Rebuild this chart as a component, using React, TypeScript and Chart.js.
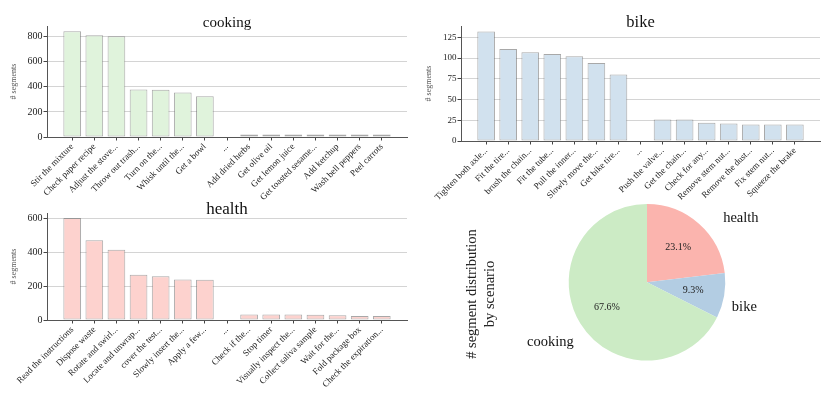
import React, { useEffect, useRef } from 'react';
import { Chart, registerables } from 'chart.js';

Chart.register(...registerables);

const SERIF = "'Liberation Serif', 'Times New Roman', Times, serif";

const cookingLabels = ['Stir the mixture', 'Check paper recipe', 'Adjust the stove...', 'Throw out trash...', 'Turn on the...', 'Whisk until the...', 'Get a bowl', '...', 'Add dried herbs', 'Get olive oil', 'Get lemon juice', 'Get toasted sesame...', 'Add ketchup', 'Wash bell peppers', 'Peel carrots'];
const cookingValues = [843, 811, 803, 379, 376, 355, 325, null, 20, 20, 20, 19, 19, 19, 19];

const bikeLabels = ['Tighten both axle...', 'Fit the tire...', 'brush the chain...', 'Fit the tube...', 'Pull the inner...', 'Slowly move the...', 'Get bike tire...', '...', 'Push the valve...', 'Get the chain...', 'Check for any...', 'Remove stem nut...', 'Remove the dust...', 'Fix stem nut...', 'Squeeze the brake'];
const bikeValues = [132, 111, 107, 105, 102, 94, 80, null, 26, 26, 22, 21, 20, 20, 20];

const healthLabels = ['Read the instructions', 'Dispose waste', 'Rotate and swirl...', 'Locate and unwrap...', 'cover the test...', 'Slowly insert the...', 'Apply a few...', '...', 'Check if the...', 'Stop timer', 'Visually inspect the...', 'Collect saliva sample', 'Wait for the...', 'Fold package box', 'Check the expiration...'];
const healthValues = [600, 470, 414, 266, 257, 239, 237, null, 32, 32, 32, 31, 28, 24, 23];

const scenarioLabels = ['health', 'bike', 'cooking'];
const scenarioShares = [23.1, 9.3, 67.6];
const scenarioColors = ['#fbb4ae', '#b3cde3', '#ccebc5'];
const barFills = { cooking: '#e0f3dc', bike: '#d1e1ee', health: '#fdd2ce' };

type Box = { left: number; top: number; w: number; h: number };
type Area = { left: number; top: number; right: number; xh: number };

function BarPanel(props: { title: string; labels: string[]; values: (number | null)[]; fill: string; step: number; box: Box; area: Area; titleSize: number; tickSize: number }) {
  const ref = useRef<HTMLCanvasElement | null>(null);
  const { title, labels, values, fill, step, box, area, titleSize, tickSize } = props;
  useEffect(() => {
    const maxV = Math.max(...(values.filter((v) => v != null) as number[]));
    const yMax = maxV * 1.05;
    const n = labels.length;
    const margin = 0.05 * (n - 1 + 0.8);
    const xMin = -0.4 - margin;
    const xMax = n - 1 + 0.4 + margin;
    const titlePlugin = {
      id: 'panelTitle',
      afterDraw(chart: any) {
        const { ctx, chartArea } = chart;
        ctx.save();
        ctx.font = `${titleSize}px ${SERIF}`;
        ctx.fillStyle = '#111';
        ctx.textAlign = 'center';
        ctx.textBaseline = 'alphabetic';
        ctx.fillText(title, (chartArea.left + chartArea.right) / 2, chartArea.top + 1);
        ctx.restore();
      },
    };
    const chart = new Chart(ref.current as HTMLCanvasElement, {
      type: 'bar',
      data: {
        datasets: [
          {
            data: values.map((v, i) => ({ x: i, y: v })) as any,
            backgroundColor: fill,
            borderColor: 'rgba(110,110,110,0.6)',
            borderWidth: 1,
            borderSkipped: false,
            barPercentage: 0.8,
            categoryPercentage: 1,
          } as any,
        ],
      },
      options: {
        responsive: false,
        animation: false,
        layout: { padding: { top: area.top, right: area.right, left: 0, bottom: 0 } },
        plugins: { legend: { display: false }, tooltip: { enabled: false } },
        scales: {
          x: {
            type: 'linear',
            offset: false,
            bounds: 'data',
            min: xMin,
            max: xMax,
            afterBuildTicks: (ax: any) => {
              ax.ticks = labels.map((_, i) => ({ value: i }));
              ax.min = xMin;
              ax.max = xMax;
            },
            afterFit: (s: any) => {
              s.height = area.xh;
            },
            ticks: {
              autoSkip: false,
              maxRotation: 45,
              minRotation: 45,
              padding: 1,
              color: '#222',
              font: { family: SERIF, size: 9 },
              callback: (v: any) => labels[v] ?? '',
            },
            grid: { offset: false, drawOnChartArea: false, drawTicks: true, tickLength: 3.5, tickColor: '#444' },
            border: { color: '#555', width: 1 },
          },
          y: {
            bounds: 'data',
            min: 0,
            max: yMax,
            afterBuildTicks: (ax: any) => {
              const t = [];
              for (let v = 0; v <= yMax + 1e-9; v += step) t.push({ value: v });
              ax.ticks = t;
              ax.min = 0;
              ax.max = yMax;
            },
            afterFit: (s: any) => {
              s.width = area.left;
            },
            ticks: {
              padding: 1,
              color: '#222',
              font: { family: SERIF, size: tickSize },
            },
            grid: {
              color: (c: any) => (c.tick && c.tick.value === 0 ? 'rgba(0,0,0,0)' : '#d4d4d4'),
              tickColor: '#444',
              tickLength: 3.5,
            },
            border: { color: '#555', width: 1 },
            title: {
              display: true,
              text: '# segments',
              color: '#555',
              font: { family: SERIF, size: 8 },
              padding: { top: 9.2, bottom: 0 },
            },
          },
        },
      } as any,
      plugins: [titlePlugin],
    });
    return () => chart.destroy();
  }, []);
  return (
    <canvas
      ref={ref}
      width={box.w}
      height={box.h}
      style={{ position: 'absolute', left: box.left, top: box.top, width: box.w, height: box.h }}
    />
  );
}

function PiePanel() {
  const ref = useRef<HTMLCanvasElement | null>(null);
  const box = { left: 430, top: 195, w: 400, h: 202 };
  useEffect(() => {
    const nudges = [
      { dx: 19, dy: 0 },
      { dx: 0, dy: 10 },
      { dx: 0, dy: 15 },
    ];
    const labelPlugin = {
      id: 'pieLabels',
      afterDatasetsDraw(chart: any) {
        const { ctx, chartArea } = chart;
        const meta = chart.getDatasetMeta(0);
        ctx.save();
        meta.data.forEach((arc: any, i: number) => {
          const p = arc.getProps(['x', 'y', 'startAngle', 'endAngle', 'outerRadius'], true);
          const mid = (p.startAngle + p.endAngle) / 2;
          const c = Math.cos(mid);
          const s = Math.sin(mid);
          ctx.fillStyle = '#222';
          ctx.font = `10px ${SERIF}`;
          ctx.textAlign = 'center';
          ctx.textBaseline = 'middle';
          ctx.fillText(`${scenarioShares[i].toFixed(1)}%`, p.x + c * p.outerRadius * 0.6, p.y + s * p.outerRadius * 0.6);
          ctx.font = `14.5px ${SERIF}`;
          ctx.textAlign = c >= 0 ? 'left' : 'right';
          ctx.fillStyle = '#111';
          ctx.fillText(
            scenarioLabels[i],
            p.x + c * p.outerRadius * 1.1 + nudges[i].dx,
            p.y + s * p.outerRadius * 1.1 + nudges[i].dy
          );
        });
        const cy = (chartArea.top + chartArea.bottom) / 2 + 11.7;
        ctx.font = `14.5px ${SERIF}`;
        ctx.fillStyle = '#222';
        ctx.textAlign = 'center';
        ctx.textBaseline = 'middle';
        const lines = ['# segment distribution', 'by scenario'];
        const xs = [chartArea.left - 97, chartArea.left - 78.7];
        lines.forEach((t, k) => {
          ctx.save();
          ctx.translate(xs[k], cy);
          ctx.rotate(-Math.PI / 2);
          ctx.fillText(t, 0, 0);
          ctx.restore();
        });
        ctx.restore();
      },
    };
    const chart = new Chart(ref.current as HTMLCanvasElement, {
      type: 'pie',
      data: {
        labels: scenarioLabels,
        datasets: [{ data: scenarioShares, backgroundColor: scenarioColors, borderWidth: 0 }],
      },
      options: {
        responsive: false,
        animation: false,
        layout: { padding: { left: 138.7, right: 104.7, top: 9, bottom: 36.4 } },
        plugins: { legend: { display: false }, tooltip: { enabled: false } },
      } as any,
      plugins: [labelPlugin],
    });
    return () => chart.destroy();
  }, []);
  return (
    <canvas
      ref={ref}
      width={box.w}
      height={box.h}
      style={{ position: 'absolute', left: box.left, top: box.top, width: box.w, height: box.h }}
    />
  );
}

export default function App() {
  return (
    <div style={{ position: 'absolute', left: 0, top: 0, width: 830, height: 397, background: '#fff', overflow: 'hidden' }}>
      <BarPanel
        title="cooking"
        labels={cookingLabels}
        values={cookingValues}
        fill={barFills.cooking}
        step={200}
        box={{ left: 0, top: 0, w: 415, h: 200 }}
        area={{ left: 47, top: 26, right: 8, xh: 63 }}
        titleSize={15}
        tickSize={10}
      />
      <BarPanel
        title="bike"
        labels={bikeLabels}
        values={bikeValues}
        fill={barFills.bike}
        step={25}
        box={{ left: 415, top: 0, w: 415, h: 200 }}
        area={{ left: 46, top: 26, right: 10, xh: 59 }}
        titleSize={16.5}
        tickSize={9}
      />
      <BarPanel
        title="health"
        labels={healthLabels}
        values={healthValues}
        fill={barFills.health}
        step={200}
        box={{ left: 0, top: 195, w: 415, h: 202 }}
        area={{ left: 47, top: 18, right: 8, xh: 77 }}
        titleSize={17}
        tickSize={10}
      />
      <PiePanel />
    </div>
  );
}
